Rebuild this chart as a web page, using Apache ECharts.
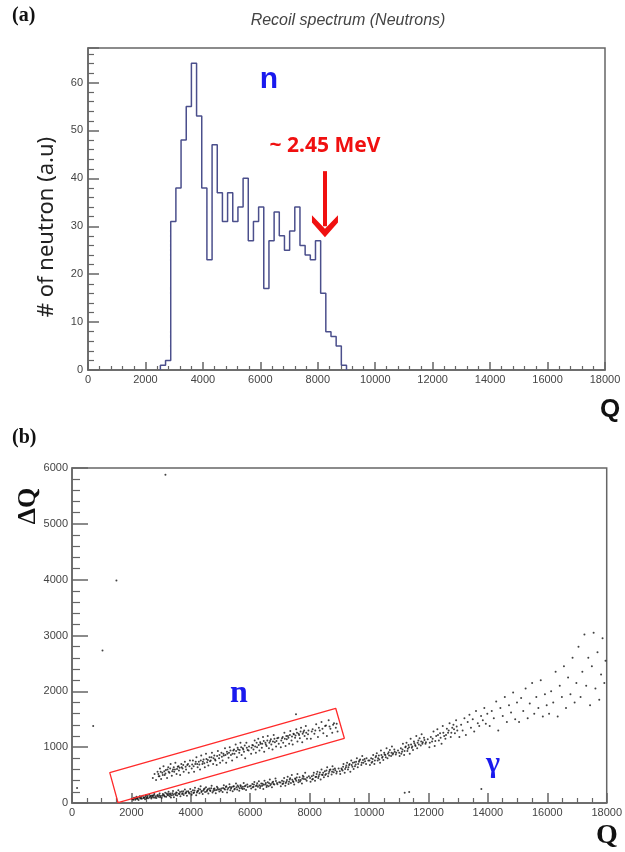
<!DOCTYPE html>
<html>
<head>
<meta charset="utf-8">
<script src="https://cdn.jsdelivr.net/npm/echarts@6/dist/echarts.min.js"></script>
<style>
  html, body { margin: 0; padding: 0; background: #fff; }
  #main { width: 625px; height: 852px; }
</style>
</head>
<body>
<div id="main"></div>
<script>
// (a) recoil spectrum histogram: 180-wide bins starting at Q=2520
var binStart = 2520;
var binWidth = 180;
var neutronCounts = [1, 2, 31, 38, 48, 55, 64, 53, 38, 23,
                     47, 37, 31, 37, 31, 34, 40, 27, 31, 34,
                     17, 27, 33, 28, 25, 29, 34, 26, 24, 23,
                     27, 16, 8, 7, 5, 1];
// arrow end is the middle of the head, the tip sits a bit lower
var arrowFrom = [8250, 41.5];
var arrowTo = [8250, 30.0];

// (b) Q vs dQ scatter, read slice by slice off the picture
var gammaBand = [
  [2050,70],[2090,95],[2130,60],[2170,110],[2210,85],[2240,55],[2280,120],[2320,90],[2350,75],[2390,130],
  [2420,100],[2460,65],[2490,140],[2530,105],[2560,85],[2600,150],[2630,115],[2670,80],[2700,135],[2740,100],
  [2770,160],[2810,120],[2840,90],[2880,145],[2910,110],[2950,170],[2980,125],[2150,80],[2450,95],[2720,125],
  [3020,95],[3060,160],[3100,130],[3140,185],[3170,110],[3210,150],[3250,200],[3290,120],[3320,170],[3360,140],
  [3400,215],[3430,105],[3470,165],[3510,190],[3540,135],[3580,230],[3620,160],[3650,120],[3690,205],[3730,175],
  [3760,145],[3800,240],[3840,185],[3870,130],[3910,210],[3950,170],[3980,250],[3330,100],
  [4030,150],[4070,230],[4110,190],[4140,275],[4180,140],[4220,210],[4260,255],[4290,175],[4330,300],[4370,215],
  [4400,160],[4440,245],[4480,195],[4510,280],[4550,230],[4590,170],[4620,260],[4660,215],[4700,310],[4730,190],
  [4770,250],[4810,230],[4840,175],[4880,290],[4920,240],[4960,205],
  [5030,260],[5070,195],[5110,320],[5150,240],[5180,285],[5220,190],[5260,270],[5300,335],[5330,230],[5370,280],
  [5410,210],[5450,300],[5480,255],[5520,350],[5560,240],[5600,290],[5630,220],[5670,320],[5710,270],[5740,250],
  [5780,360],[5820,300],[5860,235],[5900,330],
  [6030,260],[6070,340],[6110,290],[6140,375],[6180,240],[6220,320],[6260,290],[6290,390],[6330,270],[6370,350],
  [6400,310],[6440,250],[6480,400],[6510,330],[6550,285],[6590,370],[6620,300],[6660,420],[6700,340],[6730,280],
  [6770,380],[6810,330],[6850,440],[6900,360],
  [7030,300],[7070,400],[7110,350],[7140,450],[7180,310],[7220,380],[7260,470],[7290,340],[7330,420],[7370,360],
  [7400,500],[7440,390],[7480,330],[7510,440],[7550,400],[7590,520],[7620,370],[7660,460],[7700,410],[7740,350],
  [7770,490],[7810,430],[7850,540],[7900,400],
  [8030,380],[8070,480],[8110,430],[8140,540],[8180,400],[8220,470],[8260,560],[8290,450],[8330,510],[8370,420],
  [8400,600],[8440,500],[8480,460],[8510,570],[8550,520],[8590,640],[8620,480],[8660,560],[8700,600],[8740,510],
  [8770,660],[8810,550],[8850,620],[8900,530],
  [9030,520],[9070,620],[9110,580],[9140,700],[9180,540],[9220,640],[9260,720],[9290,600],[9330,680],[9370,560],
  [9400,760],[9440,650],[9480,610],[9510,730],[9550,690],[9590,800],[9620,640],[9660,740],[9700,780],[9740,680],
  [9770,840],[9810,720],[9850,790],[9900,700],
  [10030,680],[10070,800],[10110,740],[10140,860],[10180,700],[10220,820],[10260,890],[10290,760],[10330,850],[10370,720],
  [10400,940],[10440,810],[10480,770],[10510,900],[10550,860],[10590,980],[10620,800],[10660,910],[10700,950],[10740,840],
  [10770,1010],[10810,890],[10850,960],[10900,870],
  [11030,840],[11070,980],[11110,920],[11140,1060],[11180,860],[11220,1000],[11260,1080],[11290,930],[11330,1040],[11370,880],
  [11400,1150],[11440,990],[11480,950],[11510,1100],[11550,1040],[11590,1200],[11620,980],[11660,1120],[11700,1160],[11740,1030],
  [11770,1230],[11810,1090],[11850,1170],[11900,1060],
  [12030,1000],[12080,1180],[12120,1100],[12170,1280],[12210,1020],[12260,1200],[12300,1320],[12350,1120],[12390,1250],[12440,1060],
  [12480,1380],[12530,1200],[12570,1150],[12620,1330],[12660,1260],[12710,1430],[12750,1180],[12800,1350],[12840,1400],[12890,1250],
  [12930,1480],[12970,1300],
  [13040,1180],[13100,1400],[13150,1300],[13210,1520],[13260,1220],[13320,1450],[13380,1580],[13430,1350],[13490,1500],[13540,1280],
  [13600,1650],[13660,1430],[13710,1380],[13770,1560],[13830,1480],[13880,1700],[13930,1420],[13980,1600],
  [14060,1380],[14130,1650],[14200,1520],[14280,1820],[14350,1300],[14420,1700],[14500,1560],[14570,1900],[14640,1450],[14710,1750],
  [14780,1620],[14850,1980],[14920,1500],[14980,1800],
  [15050,1450],[15120,1880],[15190,1650],[15270,2050],[15340,1520],[15410,1780],[15490,2150],[15560,1600],[15630,1900],[15700,1700],
  [15780,2200],[15850,1550],[15920,1950],[15980,1750],
  [16060,1600],[16130,2000],[16200,1800],[16280,2350],[16350,1550],[16420,2100],[16490,1900],[16560,2450],[16630,1700],[16700,2250],
  [16780,1950],[16850,2600],[16920,1800],[16980,2150],
  [17050,2800],[17120,1900],[17180,2350],[17250,3020],[17310,2100],[17380,2600],[17440,1750],[17500,2450],[17560,3050],[17620,2050],
  [17690,2700],[17750,1850],[17810,2300],[17860,2950],[17920,2150],[17960,2550]
];
// denser middle of the gamma band
var gammaCore = [
  [2015,75],[2065,60],[2105,85],[2185,95],[2195,70],[2265,100],[2305,80],[2335,115],[2405,90],[2475,120],
  [2515,90],[2545,125],[2615,100],[2655,130],[2685,105],[2755,140],[2795,95],[2865,125],[2935,140],[2965,105],
  [3035,130],[3085,150],[3125,115],[3195,170],[3235,140],[3265,165],[3305,150],[3385,175],[3415,150],[3495,145],
  [3525,185],[3595,165],[3635,195],[3705,160],[3745,210],[3815,175],[3855,205],[3935,190],
  [4015,200],[4085,180],[4125,225],[4205,190],[4245,220],[4315,240],[4355,195],[4425,225],[4465,260],[4535,205],
  [4575,245],[4645,230],[4685,265],[4755,215],[4795,260],[4865,235],[4905,270],[4975,245],
  [5015,225],[5085,270],[5125,255],[5195,300],[5235,240],[5315,285],[5355,260],[5425,295],[5465,240],[5535,280],
  [5575,315],[5645,265],[5685,300],[5755,290],[5795,255],[5845,315],[5915,285],[5975,300],
  [6015,310],[6085,280],[6125,330],[6195,305],[6235,355],[6305,320],[6345,300],[6415,345],[6455,325],[6525,360],
  [6565,315],[6635,355],[6675,320],[6745,365],[6785,340],[6865,395],[6915,335],[6975,370],
  [7015,365],[7085,340],[7125,385],[7195,360],[7235,410],[7305,380],[7345,445],[7415,415],[7455,375],[7525,425],
  [7565,455],[7635,410],[7675,385],[7755,440],[7795,470],[7865,425],[7915,455],[7975,480],
  [8015,450],[8085,420],[8125,495],[8195,465],[8235,520],[8305,480],[8345,545],[8415,505],[8455,540],[8525,500],
  [8565,580],[8635,530],[8675,590],[8755,560],[8795,600],[8865,585],[8915,560],[8975,620],
  [9015,570],[9085,600],[9125,650],[9195,610],[9235,670],[9305,640],[9345,700],[9415,680],[9455,720],[9525,660],
  [9565,740],[9635,700],[9675,760],[9755,720],[9795,770],[9865,750],[9915,800],[9975,760],
  [10015,760],[10085,720],[10125,790],[10195,760],[10235,840],[10305,800],[10345,780],[10415,860],[10455,830],[10525,870],
  [10565,820],[10635,880],[10675,850],[10755,900],[10795,870],[10865,920],[10915,900],[10975,940],
  [11015,900],[11085,880],[11125,960],[11195,930],[11235,1010],[11305,970],[11345,1000],[11415,1050],[11455,1010],[11525,1070],
  [11565,1020],[11635,1080],[11675,1050],[11755,1100],[11795,1060],[11865,1130],[11915,1090],[11975,1140],
  [12045,1080],[12140,1150],[12230,1110],[12320,1220],[12410,1170],[12500,1260],[12590,1220],[12680,1300],[12770,1260],[12860,1320],
  [12950,1370]
];
var neutronBand = [
  [2720,450],[2780,520],[2830,410],[2880,560],[2920,480],[2960,620],[3000,430],[3040,540],[3080,660],[3120,500],
  [3160,590],[3200,450],[3240,640],[3280,540],[3320,700],[3360,490],[3400,600],[3440,560],[3480,720],[3520,520],
  [3560,650],[3600,580],[3640,500],[3680,700],[3720,620],[3760,560],[3800,740],[3840,600],[3880,680],[3930,540],[3970,760],
  [4030,620],[4070,760],[4110,560],[4150,700],[4190,820],[4230,640],[4270,740],[4310,600],[4350,850],[4390,700],
  [4430,780],[4470,640],[4510,880],[4550,730],[4590,670],[4630,820],[4670,760],[4710,900],[4750,700],[4790,850],
  [4830,760],[4870,680],[4910,930],[4950,800],[4985,720],
  [5030,900],[5070,760],[5110,850],[5150,980],[5190,720],[5230,880],[5270,810],[5310,1000],[5350,860],[5390,760],
  [5430,940],[5470,880],[5510,1050],[5550,820],[5590,960],[5630,900],[5670,1080],[5710,860],[5750,980],[5790,920],
  [5830,800],[5870,1080],[5910,950],[5960,1010],
  [6030,880],[6070,1040],[6110,960],[6150,1120],[6190,900],[6230,1000],[6270,1150],[6310,940],[6350,1060],[6390,990],
  [6430,1180],[6470,920],[6510,1080],[6550,1020],[6590,1200],[6630,980],[6670,1110],[6710,1050],[6750,960],[6790,1220],
  [6830,1090],[6870,1010],[6910,1160],[6960,1060],
  [7030,1000],[7070,1160],[7110,1080],[7150,1260],[7190,1020],[7230,1140],[7270,1200],[7310,1060],[7350,1290],[7390,1120],
  [7430,1050],[7470,1230],[7510,1170],[7550,1320],[7590,1100],[7630,1240],[7670,1160],[7710,1350],[7750,1090],[7790,1270],
  [7830,1200],[7870,1380],[7910,1150],[7960,1300],
  [8040,1150],[8100,1320],[8160,1240],[8220,1410],[8280,1180],[8340,1300],[8400,1450],[8460,1250],[8520,1380],[8580,1200],
  [8640,1480],[8700,1330],[8760,1260],[8820,1430],[8880,1350],[8940,1280]
];
var neutronCore = [
  [2905,520],[2945,480],[2985,560],[3055,500],[3105,570],[3145,530],[3215,600],[3255,560],[3305,620],[3375,570],
  [3425,640],[3465,600],[3535,610],[3585,660],[3625,630],[3695,640],[3745,680],[3825,650],[3905,700],[3955,660],
  [4045,690],[4095,660],[4165,740],[4215,700],[4285,690],[4335,760],[4405,740],[4455,710],[4525,790],[4575,770],
  [4645,750],[4695,820],[4765,800],[4815,780],[4885,840],[4965,860],
  [5045,830],[5095,880],[5165,860],[5215,920],[5285,900],[5335,940],[5405,880],[5455,960],[5525,930],[5575,990],
  [5645,950],[5695,1000],[5765,960],[5815,1030],[5885,990],[5945,940],
  [6045,990],[6095,1030],[6165,1010],[6215,1080],[6285,1040],[6335,1090],[6405,1060],[6455,1110],[6525,1050],[6575,1120],
  [6645,1080],[6695,1140],[6765,1100],[6815,1150],[6885,1110],[6945,1170],
  [7045,1120],[7095,1180],[7165,1150],[7215,1200],[7285,1170],[7335,1220],[7405,1190],[7455,1240],[7525,1210],[7575,1260],
  [7645,1220],[7695,1280],[7765,1240],[7815,1300],[7885,1260],[7945,1230],
  [8070,1280],[8190,1300],[8310,1350],[8430,1330],[8550,1390],[8670,1370],[8790,1400],[8910,1420]
];
var strayPoints = [[3145,5878],[1495,3984],[1027,2730],[713,1380],[170,270],[11200,185],[11350,195],[13780,250],[7540,1590]];
// corners of the red selection box (Q, dQ)
var boxCorners = [[1550,5],[1271,543],[8877,1697],[9168,1159],[1550,5]];

var chart = echarts.init(document.getElementById('main'));

// histogram outline, ROOT style
var histPoints = [[binStart, 0]];
for (var i = 0; i < neutronCounts.length; i++) {
    histPoints.push([binStart + i * binWidth, neutronCounts[i]]);
}
histPoints.push([binStart + neutronCounts.length * binWidth, 0]);

var axisGrey = '#666';
var labelStyle = { color: '#444', fontSize: 11, fontFamily: 'Liberation Sans' };
// chevron head for the 2.45 MeV arrow (points up, rotated along the line)
var chevron = 'path://M10,0 L20,12 L20,18 L10,7 L0,18 L0,12 Z';

function valueAxis(grid, min, max, step, minorSplit, majorLen, minorLen, margin) {
    return {
        type: 'value', gridIndex: grid, min: min, max: max, interval: step,
        axisLine: { show: true, lineStyle: { color: axisGrey, width: 1.5 } },
        axisTick: { show: true, inside: true, length: majorLen, lineStyle: { color: axisGrey, width: 1.5 } },
        minorTick: { show: true, splitNumber: minorSplit, length: minorLen, lineStyle: { color: axisGrey, width: 1.2 } },
        splitLine: { show: false },
        axisLabel: Object.assign({
            margin: margin,
            showMaxLabel: max % step === 0,
            formatter: function (v) { return String(v); }
        }, labelStyle)
    };
}

var option = {
    animation: false,
    backgroundColor: '#fff',
    grid: [
        { left: 88, right: 20, top: 48, height: 322, show: true, borderColor: axisGrey, borderWidth: 1.5 },
        { left: 72, right: 15, top: 468, height: 335, show: true, borderColor: axisGrey, borderWidth: 1.5 }
    ],
    xAxis: [
        valueAxis(0, 0, 18000, 2000, 5, 8, 4, 4),
        valueAxis(1, 0, 18000, 2000, 4, 10, 5, 4)
    ],
    yAxis: [
        valueAxis(0, 0, 67.2, 10, 5, 11, 6, 5),
        valueAxis(1, 0, 6000, 1000, 5, 16, 8, 4)
    ],
    series: [
        {
            type: 'line', xAxisIndex: 0, yAxisIndex: 0,
            data: histPoints, step: 'end', symbol: 'none',
            lineStyle: { color: '#4b4f8c', width: 1.5 },
            markLine: {
                silent: true,
                symbol: ['none', chevron],
                symbolSize: [26, 22],
                label: { show: false },
                lineStyle: { color: '#f01010', width: 4, type: 'solid' },
                data: [[{ coord: arrowFrom }, { coord: arrowTo }]]
            }
        },
        {
            type: 'scatter', xAxisIndex: 1, yAxisIndex: 1,
            data: gammaBand.concat(gammaCore, neutronBand, neutronCore, strayPoints),
            symbolSize: 2,
            itemStyle: { color: '#111' }
        },
        {
            type: 'line', xAxisIndex: 1, yAxisIndex: 1,
            data: boxCorners, symbol: 'none',
            lineStyle: { color: '#ff2a2a', width: 1.3 }
        }
    ],
    graphic: [
        { type: 'text', left: 12, top: 6, style: { text: '(a)', font: 'bold 20px "Liberation Serif"', fill: '#111' } },
        { type: 'text', x: 348, y: 21, style: { text: 'Recoil spectrum (Neutrons)', font: 'italic 16px "Liberation Sans"', fill: '#444', align: 'center', verticalAlign: 'middle' } },
        { type: 'text', x: 47, y: 227, rotation: Math.PI / 2, style: { text: '# of neutron (a.u)', font: '22px "Noto Sans"', fill: '#222', align: 'center', verticalAlign: 'middle' } },
        { type: 'text', x: 269, y: 80, style: { text: 'n', font: 'bold 30px "Liberation Sans"', fill: '#1a1aee', align: 'center', verticalAlign: 'middle' } },
        { type: 'text', x: 325, y: 146, style: { text: '~ 2.45 MeV', font: 'bold 21px "Noto Sans"', fill: '#f01010', align: 'center', verticalAlign: 'middle' } },
        { type: 'text', x: 610, y: 410, style: { text: 'Q', font: 'bold 26px "Liberation Sans"', fill: '#111', align: 'center', verticalAlign: 'middle' } },
        { type: 'text', left: 12, top: 428, style: { text: '(b)', font: 'bold 20px "Liberation Serif"', fill: '#111' } },
        { type: 'text', x: 28, y: 506, rotation: Math.PI / 2, style: { text: '\u0394Q', font: 'bold 26px "Liberation Serif"', fill: '#111', align: 'center', verticalAlign: 'middle' } },
        { type: 'text', x: 239, y: 694, style: { text: 'n', font: 'bold 32px "Liberation Serif"', fill: '#1a1aee', align: 'center', verticalAlign: 'middle' } },
        { type: 'text', x: 493, y: 764, style: { text: '\u03b3', font: 'bold 30px "Liberation Serif"', fill: '#1a1aee', align: 'center', verticalAlign: 'middle' } },
        { type: 'text', x: 607, y: 836, style: { text: 'Q', font: 'bold 28px "Liberation Serif"', fill: '#111', align: 'center', verticalAlign: 'middle' } }
    ]
};

chart.setOption(option);
</script>
</body>
</html>
